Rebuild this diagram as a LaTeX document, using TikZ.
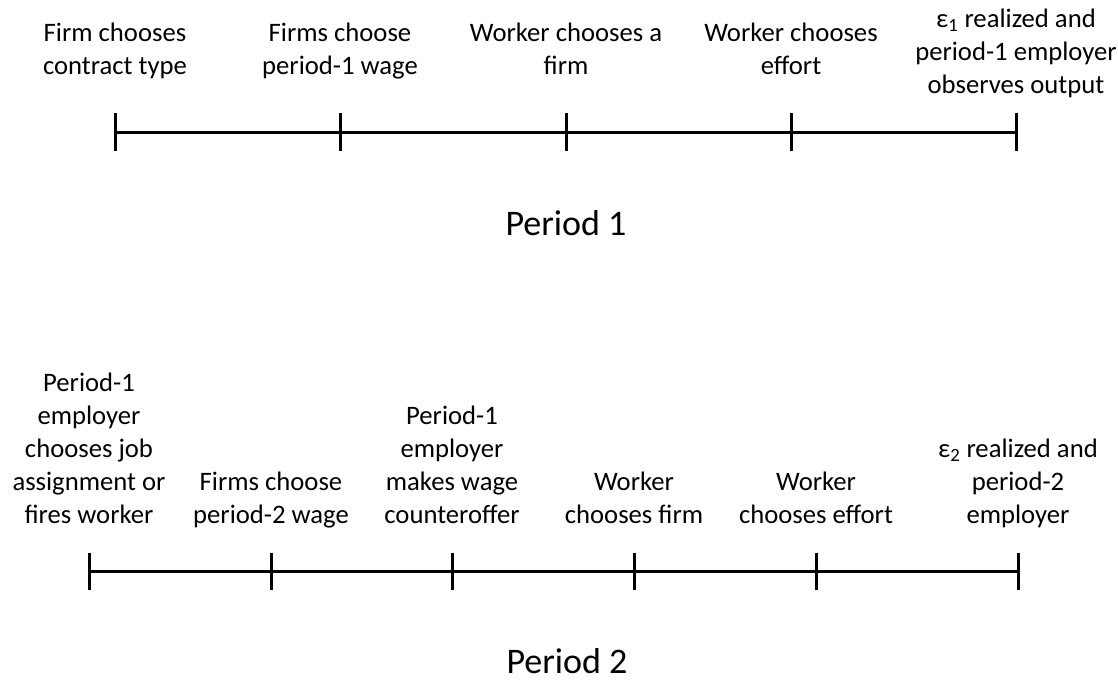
\documentclass[tikz,border=0pt]{standalone}
\usepackage{fontspec}
\setmainfont{Carlito}
\begin{document}
\begin{tikzpicture}[x=0.75pt,y=-0.75pt,line width=2.25pt,
    evt/.style={font=\fontsize{20}{24.75}\selectfont,align=center,inner sep=0pt,
      execute at begin node=\strut,execute at end node=\strut},
    ptitle/.style={font=\fontsize{27}{32}\selectfont,inner sep=0pt,anchor=base}]
    \useasboundingbox (0,0) rectangle (1118,683);

    % period 1 time line
    \foreach \n/\x in {1/115,2/340,3/566,4/791,5/1016}
        \coordinate (a\n) at (\x,132);
    \draw (a1) -- (a5);
    \foreach \n in {1,...,5}
        \draw (a\n) ++(0,-19) -- ++(0,38);

    % period 1 events
    \node[evt,anchor=north] (e11) at (115,21) {Firm chooses\\contract type};
    \node[evt,anchor=north] (e12) at (340,21) {Firms choose\\period-1 wage};
    \node[evt,anchor=north] (e13) at (566,21) {Worker chooses a\\firm};
    \node[evt,anchor=north] (e14) at (791,21) {Worker chooses\\effort};
    \node[evt,anchor=north] (e15) at (1016,7) {ε\textsubscript{1} realized and\\period-1 employer\\observes output};

    \node[ptitle] (per1) at (566,235) {Period 1};

    % period 2 time line
    \foreach \n/\x in {1/89,2/271,3/452,4/634,5/816,6/1018}
        \coordinate (b\n) at (\x,571);
    \draw (b1) -- (b6);
    \foreach \n in {1,...,6}
        \draw (b\n) ++(0,-18.5) -- ++(0,37);

    % period 2 events
    \node[evt,anchor=south] (e21) at (89,535) {Period-1\\employer\\chooses job\\assignment or\\fires worker};
    \node[evt,anchor=south] (e22) at (271,535) {Firms choose\\period-2 wage};
    \node[evt,anchor=south] (e23) at (452,535) {Period-1\\employer\\makes wage\\counteroffer};
    \node[evt,anchor=south] (e24) at (634,535) {Worker\\chooses firm};
    \node[evt,anchor=south] (e25) at (816,535) {Worker\\chooses effort};
    \node[evt,anchor=south] (e26) at (1018,535) {ε\textsubscript{2} realized and\\period-2\\employer};

    \node[ptitle] (per2) at (567,673) {Period 2};

\end{tikzpicture}
\end{document}
